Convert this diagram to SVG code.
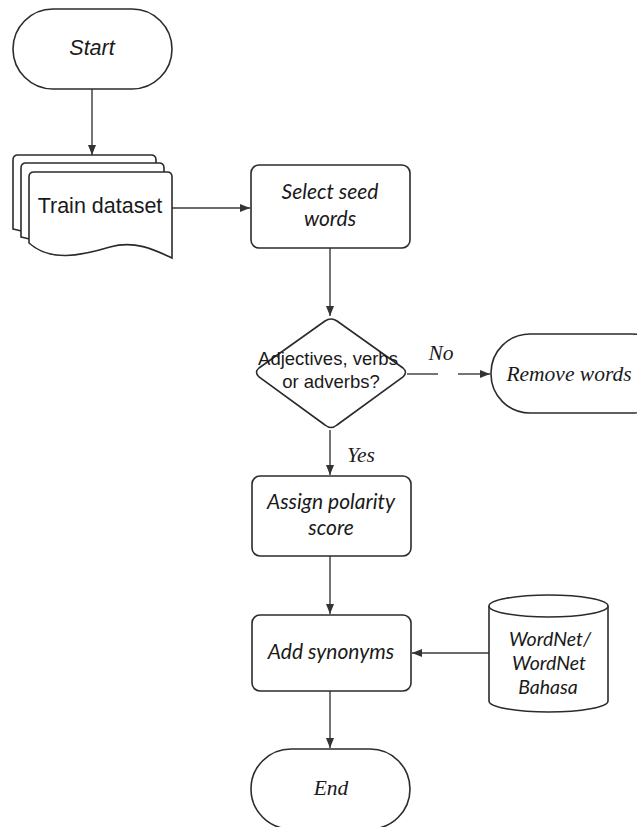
<svg xmlns="http://www.w3.org/2000/svg" width="637" height="827" viewBox="0 0 637 827">
<style>
.s{fill:#fff;stroke:#2b2b2b;stroke-width:1.6}
.c{fill:none;stroke:#3a3a3a;stroke-width:1.4}
.t{font-family:Lato,"Open Sans",sans-serif;font-style:italic;font-size:21px;fill:#1a1a1a;text-anchor:middle}
.a{font-family:"Liberation Sans",Arial,sans-serif;font-size:21.5px;fill:#1a1a1a;text-anchor:middle}
.r{font-family:"Liberation Serif","Times New Roman",serif;font-style:italic;font-size:21.5px;fill:#1a1a1a;text-anchor:middle}
.d{font-size:18.5px}
.w{font-size:19.5px}
</style>
<defs>
<marker id="ah" viewBox="0 0 10 10" refX="10" refY="5" markerWidth="10" markerHeight="10" markerUnits="userSpaceOnUse" orient="auto">
<path d="M0,1 L10,5 L0,9 Z" fill="#333"/>
</marker>
</defs>
<rect width="637" height="827" fill="#fff"/>
<g id="connectors">
<line class="c" x1="92" y1="89" x2="92" y2="155" marker-end="url(#ah)"/>
<line class="c" x1="172" y1="208" x2="250" y2="208" marker-end="url(#ah)"/>
<line class="c" x1="330" y1="248" x2="330" y2="316" marker-end="url(#ah)"/>
<line class="c" x1="407" y1="374" x2="438" y2="374"/>
<line class="c" x1="458" y1="374" x2="490" y2="374" marker-end="url(#ah)"/>
<text class="r" x="441" y="360">No</text>
<line class="c" x1="330" y1="430" x2="330" y2="475" marker-end="url(#ah)"/>
<text class="r" x="361" y="462">Yes</text>
<line class="c" x1="330" y1="556" x2="330" y2="614" marker-end="url(#ah)"/>
<line class="c" x1="489" y1="653" x2="412" y2="653" marker-end="url(#ah)"/>
<line class="c" x1="330" y1="691" x2="330" y2="748" marker-end="url(#ah)"/>
</g>
<g id="start">
<rect class="s" x="13" y="9" width="159" height="80" rx="40"/>
<text class="a" x="92" y="55" font-style="italic">Start</text>
</g>
<g id="train">
<path class="s" d="M13,160 Q13,155 18,155 H151 Q156,155 156,160 V240 C140,236 120,234 100,238 C70,244 40,236 13,229 Z"/>
<path class="s" d="M21,168 Q21,163 26,163 H159 Q164,163 164,168 V248 C148,244 128,242 108,246 C78,252 48,244 21,237 Z"/>
<path class="s" d="M29,177 Q29,172 34,172 H167 Q172,172 172,177 V258 C155,250 135,240 110,247 C80,256 50,262 29,243 Z"/>
<text class="a" x="100" y="213">Train dataset</text>
</g>
<g id="select">
<rect class="s" x="251" y="165" width="159" height="83" rx="8"/>
<text class="t" x="330" y="199">Select seed</text>
<text class="t" x="330" y="226">words</text>
</g>
<g id="decision">
<path class="s" d="M325,321 Q331,317 337,321 L403,368 Q408,372 403,377 L337,425 Q331,430 325,425 L259,377 Q254,372 259,368 Z"/>
<text class="a d" x="328" y="365">Adjectives, verbs</text>
<text class="a d" x="331" y="388">or adverbs?</text>
</g>
<g id="remove">
<rect class="s" x="491" y="334" width="180" height="79" rx="39"/>
<text class="r" x="569" y="381">Remove words</text>
</g>
<g id="assign">
<rect class="s" x="252" y="476" width="159" height="80" rx="8"/>
<text class="t" x="331" y="509">Assign polarity</text>
<text class="t" x="331" y="535">score</text>
</g>
<g id="synonyms">
<rect class="s" x="252" y="615" width="159" height="76" rx="8"/>
<text class="t" x="331" y="659">Add synonyms</text>
</g>
<g id="wordnet">
<path class="s" d="M489,606 V701 A59.5,11 0 0 0 608,701 V606"/>
<ellipse class="s" cx="548.5" cy="606" rx="59.5" ry="11"/>
<text class="t w" x="550" y="646">WordNet/</text>
<text class="t w" x="549" y="670">WordNet</text>
<text class="t w" x="548" y="694">Bahasa</text>
</g>
<g id="end">
<rect class="s" x="251" y="749" width="159" height="80" rx="40"/>
<text class="r" x="331" y="795">End</text>
</g>
</svg>
